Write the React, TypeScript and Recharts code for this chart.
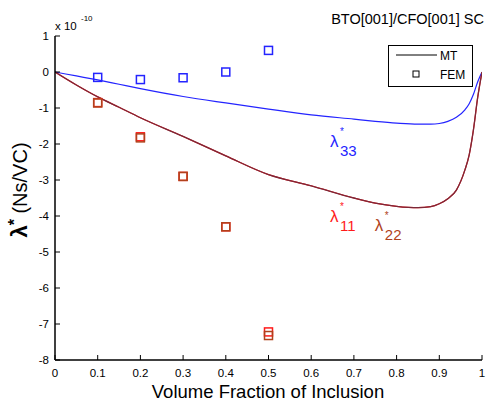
import React from 'react';
import { ComposedChart, Line, Scatter, XAxis, YAxis, ReferenceDot } from 'recharts';

const xTicks = [0, 0.1, 0.2, 0.3, 0.4, 0.5, 0.6, 0.7, 0.8, 0.9, 1];
const xTickLabels = ['0', '0.1', '0.2', '0.3', '0.4', '0.5', '0.6', '0.7', '0.8', '0.9', '1'];
const yTicks = [-8, -7, -6, -5, -4, -3, -2, -1, 0, 1];
const yTickLabels = ['-8', '-7', '-6', '-5', '-4', '-3', '-2', '-1', '0', '1'];

const mtX = [0, 0.05, 0.1, 0.15, 0.2, 0.3, 0.4, 0.5, 0.6, 0.7, 0.75, 0.8, 0.85, 0.88, 0.9, 0.92, 0.94, 0.96, 0.97, 0.98, 0.99, 1.0];
const mt33 = [0, -0.11, -0.22, -0.34, -0.46, -0.68, -0.86, -1.03, -1.19, -1.31, -1.37, -1.42, -1.45, -1.45, -1.43, -1.37, -1.26, -1.05, -0.88, -0.62, -0.27, 0];
const mt11 = [0, -0.36, -0.69, -0.98, -1.27, -1.79, -2.33, -2.85, -3.16, -3.5, -3.64, -3.73, -3.77, -3.74, -3.66, -3.52, -3.28, -2.72, -2.3, -1.6, -0.7, 0];
const mt22 = [0, -0.36, -0.69, -0.98, -1.27, -1.79, -2.33, -2.85, -3.16, -3.5, -3.64, -3.73, -3.77, -3.74, -3.66, -3.52, -3.28, -2.72, -2.3, -1.6, -0.7, 0];

const femX = [0.1, 0.2, 0.3, 0.4, 0.5];
const fem33 = [-0.15, -0.21, -0.16, 0.0, 0.6];
const fem11 = [-0.85, -1.8, -2.9, -4.3, -7.22];
const fem22 = [-0.86, -1.83, -2.9, -4.3, -7.32];

const legendLabels = ['MT', 'FEM'];
const title = 'BTO[001]/CFO[001] SC';
const xLabel = 'Volume Fraction of Inclusion';

const toRows = (xs: number[], ys: number[]) => xs.map((x, i) => ({ x, y: ys[i] }));

const C33 = '#2424ff';
const C11 = '#ff1a1a';
const C22 = '#b0421c';
const CLINE = '#7a2838';
const FONT = '"Liberation Sans", Arial, Helvetica, sans-serif';

const squareShape = (color: string) => (props: any) => {
  const { cx, cy } = props;
  return <rect x={cx - 4} y={cy - 4} width={8} height={8} fill="none" stroke={color} strokeWidth={1.5} />;
};

const BottomTick = (props: any) => {
  const { x, y, payload } = props;
  const i = xTicks.indexOf(payload.value);
  return (
    <g>
      <line x1={x} x2={x} y1={y} y2={y - 5} stroke="#000" strokeWidth={1} />
      <text x={x} y={y + 17} textAnchor="middle" fontSize={11.5} fontFamily={FONT} fill="#000">
        {xTickLabels[i]}
      </text>
    </g>
  );
};
const TopTick = (props: any) => {
  const { x, y } = props;
  return <line x1={x} x2={x} y1={y} y2={y + 5} stroke="#000" strokeWidth={1} />;
};
const LeftTick = (props: any) => {
  const { x, y, payload } = props;
  const i = yTicks.indexOf(payload.value);
  return (
    <g>
      <line x1={x} x2={x + 5} y1={y} y2={y} stroke="#000" strokeWidth={1} />
      <text x={x - 6} y={y + 4} textAnchor="end" fontSize={11.5} fontFamily={FONT} fill="#000">
        {yTickLabels[i]}
      </text>
    </g>
  );
};
const RightTick = (props: any) => {
  const { x, y } = props;
  return <line x1={x} x2={x - 5} y1={y} y2={y} stroke="#000" strokeWidth={1} />;
};

const lambdaLabel = (sub: string, color: string) => (props: any) => {
  const vb = props.viewBox || {};
  const vx = vb.x;
  const vy = vb.y;
  return (
    <text fill={color} fontFamily={FONT}>
      <tspan x={vx} y={vy} fontSize={17}>λ</tspan>
      <tspan x={vx + 10} y={vy - 12} fontSize={10}>*</tspan>
      <tspan x={vx + 10} y={vy + 9} fontSize={15}>{sub}</tspan>
    </text>
  );
};

export default function App() {
  return (
    <div style={{ position: 'absolute', left: 0, top: 0, width: 489, height: 404, background: '#fff' }}>
      <ComposedChart width={489} height={404} margin={{ top: 36, right: 7, bottom: 0, left: 0 }}>
        <XAxis
          xAxisId={0}
          type="number"
          dataKey="x"
          domain={[0, 1]}
          ticks={xTicks}
          interval={0}
          height={44}
          tickSize={0}
          tickMargin={0}
          tickLine={false}
          tick={<BottomTick />}
          axisLine={{ stroke: '#000', strokeWidth: 1.5 }}
          allowDataOverflow
        />
        <XAxis
          xAxisId="top"
          orientation="top"
          type="number"
          dataKey="x"
          domain={[0, 1]}
          ticks={xTicks}
          interval={0}
          height={0}
          tickSize={0}
          tickMargin={0}
          tickLine={false}
          tick={<TopTick />}
          axisLine={{ stroke: '#000', strokeWidth: 1.5 }}
          allowDataOverflow
        />
        <YAxis
          yAxisId={0}
          type="number"
          domain={[-8, 1]}
          ticks={yTicks}
          interval={0}
          width={55}
          tickSize={0}
          tickMargin={0}
          tickLine={false}
          tick={<LeftTick />}
          axisLine={{ stroke: '#000', strokeWidth: 1.5 }}
          allowDataOverflow
        />
        <YAxis
          yAxisId="right"
          orientation="right"
          type="number"
          domain={[-8, 1]}
          ticks={yTicks}
          interval={0}
          width={0}
          tickSize={0}
          tickMargin={0}
          tickLine={false}
          tick={<RightTick />}
          axisLine={{ stroke: '#000', strokeWidth: 1.5 }}
          allowDataOverflow
        />
        <Line data={toRows(mtX, mt33)} dataKey="y" type="monotone" stroke={C33} strokeWidth={1.2} dot={false} isAnimationActive={false} />
        <Line data={toRows(mtX, mt11)} dataKey="y" type="monotone" stroke={C11} strokeWidth={1.2} dot={false} isAnimationActive={false} />
        <Line data={toRows(mtX, mt22)} dataKey="y" type="monotone" stroke={CLINE} strokeWidth={1.3} dot={false} isAnimationActive={false} />
        <Scatter data={toRows(femX, fem33)} dataKey="y" shape={squareShape(C33)} isAnimationActive={false} />
        <Scatter data={toRows(femX, fem11)} dataKey="y" shape={squareShape(C11)} isAnimationActive={false} />
        <Scatter data={toRows(femX, fem22)} dataKey="y" shape={squareShape(C22)} isAnimationActive={false} />
        <ReferenceDot x={0.644} y={-2.09} r={0} fill="none" stroke="none" label={lambdaLabel('33', C33)} />
        <ReferenceDot x={0.644} y={-4.17} r={0} fill="none" stroke="none" label={lambdaLabel('11', C11)} />
        <ReferenceDot x={0.749} y={-4.43} r={0} fill="none" stroke="none" label={lambdaLabel('22', C22)} />
      </ComposedChart>
      <svg width={489} height={404} style={{ position: 'absolute', left: 0, top: 0, pointerEvents: 'none' }}>
        <text x={484} y={24} textAnchor="end" fontSize={14.5} fontFamily={FONT} fill="#000">{title}</text>
        <text x={55} y={30} fontSize={11.5} fontFamily={FONT} fill="#000">x 10</text>
        <text x={81} y={21} fontSize={8} fontFamily={FONT} fill="#000">-10</text>
        <text x={268} y={398} textAnchor="middle" fontSize={18.5} fontFamily={FONT} fill="#000">{xLabel}</text>
        <text x={27} y={190} transform="rotate(-90 27 190)" textAnchor="middle" fontSize={20} fontFamily={FONT} fill="#000">
          <tspan fontWeight="bold" fontSize={22}>λ</tspan>
          <tspan fontWeight="bold" fontSize={16} dy={-7}>*</tspan>
          <tspan dy={7}> (Ns/VC)</tspan>
        </text>
        <rect x={388.5} y={45.5} width={84} height={41} fill="#fff" stroke="#000" strokeWidth={1} />
        <line x1={396} x2={437} y1={55} y2={55} stroke="#000" strokeWidth={1} />
        <text x={440} y={59.5} fontSize={12} fontFamily={FONT} fill="#000">{legendLabels[0]}</text>
        <rect x={413} y={71} width={6} height={6} fill="none" stroke="#000" strokeWidth={1} />
        <text x={440} y={79} fontSize={12} fontFamily={FONT} fill="#000">{legendLabels[1]}</text>
      </svg>
    </div>
  );
}
